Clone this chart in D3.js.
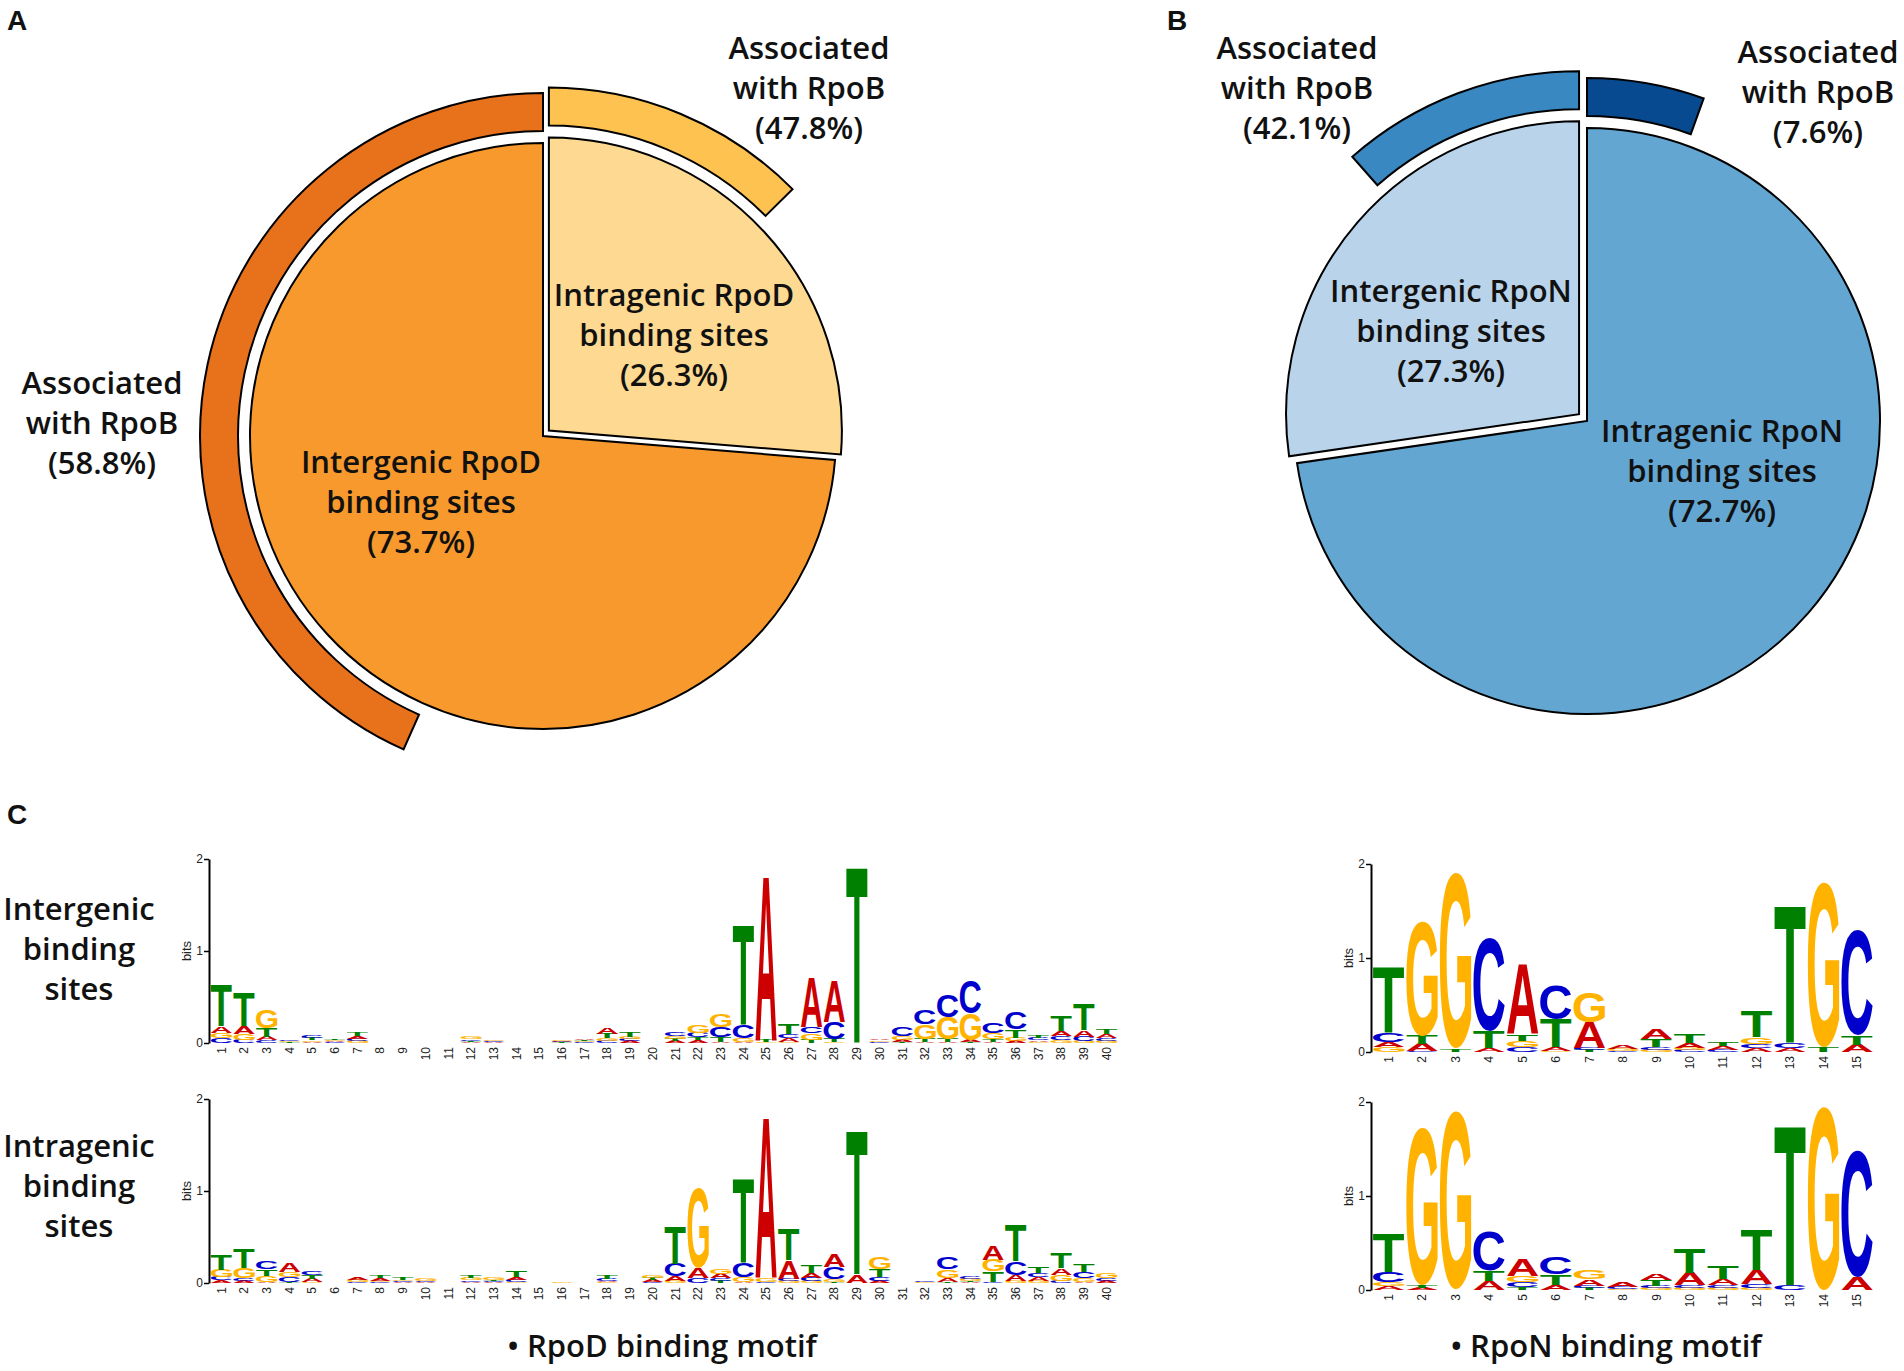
<!DOCTYPE html>
<html>
<head>
<meta charset="utf-8">
<script src="https://cdn.jsdelivr.net/npm/d3@7"></script>
<style>
  body { margin: 0; background: #fff; }
  .lbl { font-family: "Open Sans", sans-serif; font-weight: 600; font-size: 31px; fill: #111; }
  .panel { font-family: "Liberation Sans", Arial, sans-serif; font-weight: bold; font-size: 28px; fill: #111; }
  .tick text, .num, .bits { font-family: "Liberation Sans", Arial, sans-serif; fill: #222; }
</style>
</head>
<body>
<svg id="fig" width="1904" height="1371"></svg>
<script>
// ---- data: pies ----
const pieANames = ["Intragenic RpoD binding sites", "Intergenic RpoD binding sites"];
const pieAShare = [26.3, 73.7];
const pieARpoB  = [47.8, 58.8];
const pieBNames = ["Intragenic RpoN binding sites", "Intergenic RpoN binding sites"];
const pieBShare = [72.7, 27.3];
const pieBRpoB  = [7.6, 42.1];

// ---- data: sequence logos (bits per base at each position) ----
const rpodInter = [
  {A:.07,C:.05,G:.06,T:.45}, {C:.035,A:.08,G:.065,T:.36}, {A:.035,C:.03,T:.1,G:.2}, {A:.005,G:.008,T:.007,C:.012},
  {A:.015,G:.016,T:.02,C:.022}, {A:.01,C:.008,G:.011,T:.012}, {G:.02,C:.021,A:.03,T:.045}, {},
  {}, {}, {}, {A:.01,C:.018,T:.011,G:.02},
  {A:.008,C:.012,G:.015,T:.005}, {}, {A:.004,G:.005}, {A:.01,C:.008,G:.011,T:.006},
  {A:.012,C:.008,G:.01,T:.011}, {C:.02,G:.03,T:.05,A:.07}, {A:.02,C:.021,G:.025,T:.055}, {},
  {A:.02,G:.03,T:.021,C:.04}, {A:.03,T:.031,C:.05,G:.09}, {A:.01,T:.05,C:.11,G:.135}, {A:.01,G:.04,C:.145,T:1.08},
  {C:.005,G:.006,T:.02,A:1.8}, {G:.015,A:.035,C:.045,T:.11}, {T:.035,G:.07,C:.071,A:.53}, {G:.01,T:.035,C:.18,A:.45},
  {T:1.92}, {C:.01,G:.015,A:.016,T:.005}, {A:.02,T:.015,G:.04,C:.1}, {A:.01,T:.035,G:.155,C:.16},
  {A:.01,T:.035,G:.235,C:.245}, {T:.01,A:.02,G:.29,C:.36}, {A:.01,T:.03,G:.07,C:.11}, {A:.02,G:.035,T:.09,C:.18},
  {G:.015,A:.016,C:.02,T:.025}, {G:.03,C:.045,A:.055,T:.175}, {G:.02,C:.05,A:.07,T:.28}, {G:.02,C:.03,A:.045,T:.05}
];
const rpodIntra = [
  {A:.03,C:.035,G:.08,T:.17}, {A:.025,C:.03,G:.11,T:.21}, {A:.01,G:.07,T:.071,C:.08}, {T:.01,C:.05,G:.06,A:.1},
  {G:.01,A:.035,T:.036,C:.04}, {}, {C:.01,G:.02,A:.022}, {C:.01,G:.011,A:.03,T:.032},
  {A:.01,C:.011,G:.015,T:.02}, {A:.01,C:.011,G:.02}, {}, {A:.015,C:.016,G:.02,T:.021},
  {A:.01,C:.011,T:.012,G:.02}, {G:.015,C:.02,A:.03,T:.07}, {}, {A:.005,G:.01},
  {}, {G:.01,A:.015,C:.02,T:.04}, {}, {C:.01,A:.02,T:.021,G:.03},
  {G:.02,A:.05,C:.135,T:.41}, {C:.05,A:.115,G:.88}, {T:.02,C:.03,A:.05,G:.051}, {A:.01,G:.055,C:.157,T:.92},
  {C:.01,G:.04,A:1.75}, {G:.02,C:.025,A:.2,T:.335}, {G:.02,C:.035,A:.055,T:.09}, {T:.015,G:.03,C:.128,A:.145},
  {C:.005,A:.09,T:1.57}, {A:.02,C:.045,T:.08,G:.128}, {}, {A:.005,G:.01,C:.015},
  {T:.015,A:.04,G:.09,C:.128}, {A:.01,T:.011,G:.02,C:.021}, {C:.01,T:.115,G:.13,A:.16}, {G:.02,A:.07,C:.145,T:.39},
  {G:.02,A:.045,C:.046,T:.07}, {C:.02,G:.07,A:.071,T:.165}, {A:.01,G:.045,C:.07,T:.085}, {A:.02,C:.03,G:.05}
];
const rponInter = [
  {G:.05,A:.06,C:.09,T:.7}, {C:.01,A:.075,T:.09,G:1.22}, {A:.005,T:.03,G:1.87}, {G:.005,A:.04,T:.18,C:.99},
  {C:.05,G:.07,T:.071,A:.75}, {G:.01,A:.04,T:.3,C:.37}, {T:.02,C:.025,A:.27,G:.32}, {C:.01,G:.02,A:.045},
  {G:.025,C:.03,T:.08,A:.105}, {C:.02,G:.021,A:.05,T:.09}, {C:.02,A:.04,T:.045}, {A:.044,C:.045,G:.07,T:.27},
  {A:.045,C:.05,T:1.47}, {T:.05,G:1.76}, {A:.075,T:.1,C:1.12}
];
const rponIntra = [
  {A:.04,G:.045,C:.105,T:.41}, {A:.025,T:.03,G:1.67}, {G:1.9}, {A:.1,T:.105,C:.42},
  {T:.03,C:.05,G:.065,A:.185}, {A:.05,T:.115,C:.18}, {T:.02,C:.025,A:.07,G:.1}, {G:.01,C:.02,A:.05},
  {G:.02,C:.021,T:.065,A:.07}, {G:.02,C:.03,A:.13,T:.26}, {G:.02,C:.03,A:.07,T:.14}, {G:.02,C:.04,A:.15,T:.43},
  {C:.05,T:1.7}, {G:1.95}, {A:.14,C:1.345}
];

const baseColor = {A: "#CC0000", C: "#0000CC", G: "#FFB300", T: "#008000"};

const svg = d3.select("#fig");

// panel letters
svg.append("text").attr("class", "panel").attr("x", 7).attr("y", 30).text("A");
svg.append("text").attr("class", "panel").attr("x", 1167).attr("y", 30).text("B");
svg.append("text").attr("class", "panel").attr("x", 7).attr("y", 824).text("C");

// ---- pies with outer RpoB rings ----
const pieArc = d3.arc().innerRadius(0).outerRadius(293);
const ringArc = d3.arc().innerRadius(305).outerRadius(343);

function drawPie(share, rpoB, o) {
  const arcs = d3.pie().sort(null).value(d => d)(share);
  const g = svg.append("g").attr("transform", `translate(${o.cx},${o.cy})`);
  arcs.forEach((a, i) => {
    const span = a.endAngle - a.startAngle;
    const f = rpoB[i] / 100;
    // ring sits next to the 12 o'clock split
    const ring = a.startAngle === 0
      ? {startAngle: a.startAngle, endAngle: a.startAngle + f * span}
      : {startAngle: a.endAngle - f * span, endAngle: a.endAngle};
    const mid = (a.startAngle + a.endAngle) / 2;
    const off = i === o.explode ? o.shift : 0;
    const sg = g.append("g")
      .attr("transform", `translate(${off * Math.sin(mid)},${-off * Math.cos(mid)})`);
    sg.append("path").attr("d", pieArc(a))
      .attr("fill", o.fill[i]).attr("stroke", "#000").attr("stroke-width", 2);
    sg.append("path").attr("d", ringArc(ring))
      .attr("fill", o.ringFill[i]).attr("stroke", "#000").attr("stroke-width", 2);
  });
}

drawPie(pieAShare, pieARpoB, {cx: 543, cy: 436, explode: 0, shift: 8,
  fill: ["#FDD992", "#F8992D"], ringFill: ["#FEC250", "#E8711B"]});
drawPie(pieBShare, pieBRpoB, {cx: 1587, cy: 421, explode: 1, shift: 10.5,
  fill: ["#63A6D2", "#B9D4EA"], ringFill: ["#084A8F", "#3A88C1"]});

// multi-line labels
function label(lines, x, y0) {
  const t = svg.append("text").attr("class", "lbl").attr("text-anchor", "middle");
  lines.forEach((s, k) => t.append("tspan").attr("x", x).attr("y", y0 + k * 40).text(s));
}
function nameLines(n, v) {
  const w = n.split(" ");
  return [w.slice(0, 2).join(" "), w.slice(2).join(" "), `(${v}%)`];
}
label(nameLines(pieANames[0], pieAShare[0]), 674, 306);
label(nameLines(pieANames[1], pieAShare[1]), 421, 473);
label(["Associated", "with RpoB", `(${pieARpoB[0]}%)`], 809, 59);
label(["Associated", "with RpoB", `(${pieARpoB[1]}%)`], 102, 394);
label(nameLines(pieBNames[1], pieBShare[1]), 1451, 302);
label(nameLines(pieBNames[0], pieBShare[0]), 1722, 442);
label(["Associated", "with RpoB", `(${pieBRpoB[1]}%)`], 1297, 59);
label(["Associated", "with RpoB", `(${pieBRpoB[0]}%)`], 1818, 63);

label(["Intergenic", "binding", "sites"], 79, 920);
label(["Intragenic", "binding", "sites"], 79, 1157);
label(["\u2022 RpoD binding motif"], 662, 1357);
label(["\u2022 RpoN binding motif"], 1606, 1357);

// ---- sequence logos ----
// letters are drawn small and stretched so their ink fills each stack cell
const FS = 10;
const ctx = document.createElement("canvas").getContext("2d");
ctx.font = "bold 100px 'Liberation Sans'";
const ink = {};
"ACGT".split("").forEach(L => {
  const m = ctx.measureText(L), k = FS / 100;
  ink[L] = {l: m.actualBoundingBoxLeft * k, r: m.actualBoundingBoxRight * k,
            a: m.actualBoundingBoxAscent * k, d: m.actualBoundingBoxDescent * k};
});

function drawLogo(data, o) {
  const pos = data.map((d, i) => i + 1);
  const x = d3.scaleBand().domain(pos).range([o.x0, o.x0 + data.length * o.step]).paddingInner(0.06).paddingOuter(0.03);
  const y = d3.scaleLinear().domain([0, 2]).range([o.y0, o.y0 - o.h]);
  const g = svg.append("g");

  const ax = g.append("g").attr("transform", `translate(${o.x0 - 1},0)`)
    .call(d3.axisLeft(y).tickValues([0, 1, 2]).tickFormat(d3.format("d")).tickSize(5).tickSizeOuter(0));
  ax.select(".domain").attr("stroke-width", 2);
  ax.selectAll(".tick line").attr("stroke-width", 1.5);
  ax.selectAll(".tick text").attr("font-size", 12).attr("x", -6);
  g.append("text").attr("class", "bits").attr("font-size", 13).attr("text-anchor", "middle")
    .attr("transform", `translate(${o.x0 - 19},${y(1)}) rotate(-90)`).text("bits");

  data.forEach((col, i) => {
    const stack = Object.entries(col).sort((p, q) => p[1] - q[1]);
    let cum = 0;
    const bx = x(i + 1), w = x.bandwidth();
    stack.forEach(([L, v]) => {
      const yb = y(cum), yt = y(cum + v);
      cum += v;
      const hh = yb - yt;
      if (hh < 0.4) return;
      const m = ink[L];
      const sx = w / (m.l + m.r), sy = hh / (m.a + m.d);
      g.append("text").text(L)
        .attr("font-family", "'Liberation Sans', Arial, sans-serif").attr("font-weight", "bold")
        .attr("font-size", FS).attr("fill", baseColor[L])
        .attr("transform", `translate(${bx},${yb}) scale(${sx},${sy}) translate(${m.l},${-m.d})`);
    });
    g.append("text").attr("class", "num").attr("font-size", 12).attr("text-anchor", "end")
      .attr("dy", "0.35em")
      .attr("transform", `translate(${bx + w / 2},${o.y0 + 4}) rotate(-90)`).text(i + 1);
  });
}

drawLogo(rpodInter, {x0: 210, step: 22.7, y0: 1043, h: 184});
drawLogo(rpodIntra, {x0: 210, step: 22.7, y0: 1283, h: 184});
drawLogo(rponInter, {x0: 1372, step: 33.45, y0: 1052, h: 188});
drawLogo(rponIntra, {x0: 1372, step: 33.45, y0: 1290, h: 188});
</script>
</body>
</html>
